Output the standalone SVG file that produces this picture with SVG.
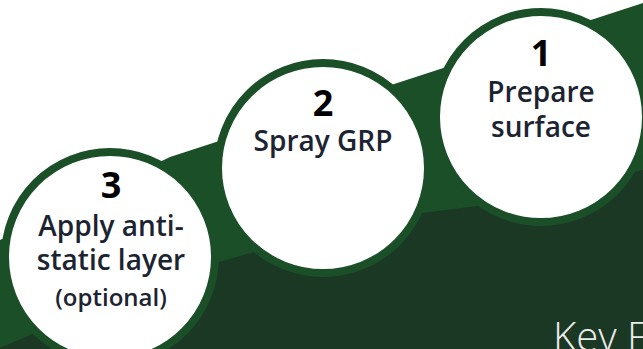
<svg xmlns="http://www.w3.org/2000/svg" width="643" height="349" viewBox="0 0 643 349">
<style>
.node circle{fill:#ffffff;stroke:#1a4f28;stroke-width:8}
.num{font-family:"Open Sans","Noto Sans",sans-serif;font-weight:700;font-size:36px;fill:#000000;text-anchor:middle}
.lbl{font-family:"Open Sans","Noto Sans",sans-serif;font-weight:600;font-size:28px;fill:#1c2331;text-anchor:middle}
.sm{font-family:"Open Sans","Noto Sans",sans-serif;font-weight:600;font-size:24px;fill:#1c2331;text-anchor:middle}
</style>
<rect x="0" y="0" width="643" height="349" fill="#ffffff"/>
<g id="background">
<polygon points="0,240 170,157 643,3 643,349 0,349" fill="#1a4f28"/>
<polygon points="0,348 37,332 219,262 254,252 422,213 477,206 643,170 643,349 0,349" fill="#1b3824"/>
<text x="553" y="351" font-family="'Open Sans','Noto Sans',sans-serif" font-weight="300" font-size="40" fill="#ececec">Key F</text>
</g>
<g id="connectors"></g>
<g id="step1" class="node">
<circle cx="541" cy="117" r="105"/>
<text class="num" x="541" y="66">1</text>
<text class="lbl" x="541" y="102">Prepare</text>
<text class="lbl" x="541" y="137">surface</text>
</g>
<g id="step2" class="node">
<circle cx="323" cy="168" r="105"/>
<text class="num" x="323" y="116">2</text>
<text class="lbl" x="323" y="151">Spray GRP</text>
</g>
<g id="step3" class="node">
<circle cx="110" cy="257" r="105"/>
<text class="num" x="111" y="198">3</text>
<text class="lbl" x="111" y="236">Apply anti-</text>
<text class="lbl" x="111" y="270">static layer</text>
<text class="sm" x="111" y="306">(optional)</text>
</g>
</svg>
